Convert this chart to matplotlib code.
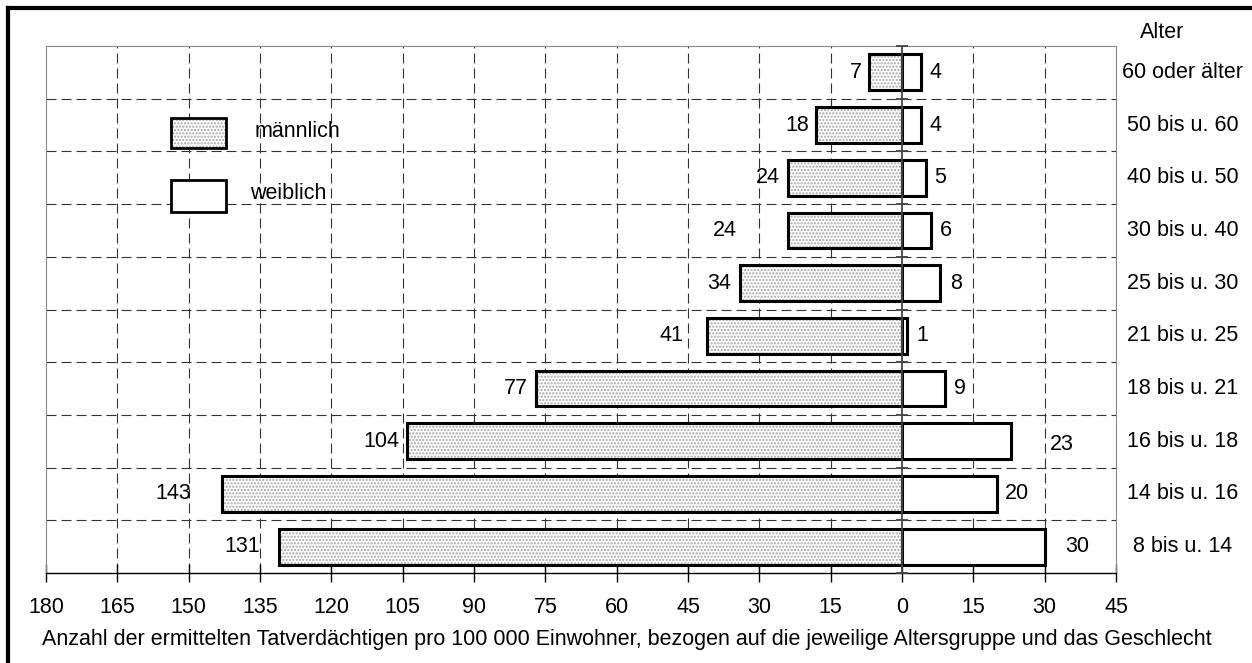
import matplotlib
matplotlib.use("Agg")
import matplotlib.pyplot as plt
from matplotlib.patches import Rectangle
from matplotlib.lines import Line2D
from matplotlib.transforms import offset_copy, blended_transform_factory
import numpy as np

plt.rcParams['font.family'] = ['Liberation Sans', 'DejaVu Sans']
plt.rcParams['hatch.linewidth'] = 1.0

# ---- data (top to bottom) ----
age_groups = ["60 oder älter", "50 bis u. 60", "40 bis u. 50", "30 bis u. 40",
              "25 bis u. 30", "21 bis u. 25", "18 bis u. 21", "16 bis u. 18",
              "14 bis u. 16", "8 bis u. 14"]
male = [7, 18, 24, 24, 34, 41, 77, 104, 143, 131]
female = [4, 4, 5, 6, 8, 1, 9, 23, 20, 30]
tick_values = [-180, -165, -150, -135, -120, -105, -90, -75, -60, -45, -30, -15, 0, 15, 30, 45]
tick_labels = [str(abs(v)) for v in tick_values]
legend_labels = ["männlich", "weiblich"]
x_caption = ("Anzahl der ermittelten Tatverdächtigen pro 100 000 Einwohner, "
             "bezogen auf die jeweilige Altersgruppe und das Geschlecht")
age_title = "Alter"

# label gaps in pixels from bar ends (layout only)
male_gap = [7, 7, 8, 51, 9, 24, 8, 8, 31, 19]
female_gap = [8, 8, 8, 9, 10, 10, 9, 38, 8, 21]
female_dy = [0, 0, 0, 0, 0, 0, 0, -3, 0, 0]

W, H = 1252, 663
fig = plt.figure(figsize=(W / 100, H / 100), dpi=100)
ax = fig.add_axes([46 / W, 1 - 573 / H, (1116 - 46) / W, (573 - 46) / H])

n = len(age_groups)
y = np.arange(n)[::-1]
bar_h = 0.68
FS = 15.5

ax.set_xlim(-180, 45)
ax.set_ylim(-0.5, n - 0.5)

dash = (0, (9, 4.5))
# grid
for b in np.arange(0.5, n - 0.5, 1.0):
    ax.axhline(b, color='#333333', lw=0.8, ls=dash, zorder=1)
for v in tick_values[1:-1]:
    if v != 0:
        ax.axvline(v, color='#333333', lw=0.8, ls=dash, zorder=1)

# male bars: dotted fill then outline
ax.barh(y, [-m for m in male], height=bar_h, color='#fbfbfb', edgecolor='#a8a8a8',
        hatch='.....', lw=0, zorder=2)
ax.barh(y, [-m for m in male], height=bar_h, fill=False, edgecolor='black',
        lw=2.2, zorder=3)
# female bars
ax.barh(y, female, height=bar_h, color='white', edgecolor='black', lw=2.2, zorder=3)

# zero line with small ticks
ax.axvline(0, color='#444444', lw=1.3, zorder=4)
ax.plot([0] * (n + 1), np.arange(-0.5, n, 1.0), ls='none', marker='_',
        color='#444444', markersize=8, mew=1.3, zorder=4, clip_on=False)

# value labels
for i in range(n):
    tm = offset_copy(ax.transData, fig=fig, x=-male_gap[i], y=0, units='dots')
    ax.text(-male[i], y[i], str(male[i]), transform=tm, ha='right', va='center',
            fontsize=FS, zorder=5)
    tf = offset_copy(ax.transData, fig=fig, x=female_gap[i], y=female_dy[i], units='dots')
    ax.text(female[i], y[i], str(female[i]), transform=tf, ha='left', va='center',
            fontsize=FS, zorder=5)

# age labels on the right
tr_age = blended_transform_factory(fig.transFigure, ax.transData)
for i in range(n):
    ax.text(1183 / W, y[i], age_groups[i], transform=tr_age,
            ha='center', va='center', fontsize=FS)
fig.text(1140 / W, 1 - 32 / H, age_title, ha='left', va='center', fontsize=FS)

# spines and ticks
for s in ['top', 'left', 'right']:
    ax.spines[s].set_color('#8a8a8a')
    ax.spines[s].set_linewidth(0.8)
ax.spines['bottom'].set_color('black')
ax.spines['bottom'].set_linewidth(1.0)
ax.set_yticks([])
ax.set_xticks(tick_values)
ax.set_xticklabels(tick_labels, fontsize=FS)
ax.tick_params(axis='x', direction='inout', length=13, width=1.0, pad=11, colors='black')

# legend
lx0 = (171 - 46) / (1116 - 46)
lw_ = (226 - 171) / (1116 - 46)
def yf(px):
    return 1 - (px - 46) / (573 - 46)
ax.add_patch(Rectangle((lx0, yf(148)), lw_, yf(118) - yf(148), transform=ax.transAxes,
                       facecolor='#fbfbfb', edgecolor='#a8a8a8', hatch='.....', lw=0, zorder=6))
ax.add_patch(Rectangle((lx0, yf(148)), lw_, yf(118) - yf(148), transform=ax.transAxes,
                       fill=False, edgecolor='black', lw=2.0, zorder=7))
ax.add_patch(Rectangle((lx0, yf(212)), lw_, yf(180) - yf(212), transform=ax.transAxes,
                       facecolor='white', edgecolor='black', lw=2.0, zorder=7))
ax.text((255 - 46) / 1070, yf(131), legend_labels[0], transform=ax.transAxes,
        ha='left', va='center', fontsize=FS, zorder=7)
ax.text((250 - 46) / 1070, yf(193), legend_labels[1], transform=ax.transAxes,
        ha='left', va='center', fontsize=FS, zorder=7)

# caption
fig.text(627 / W, 1 - 640 / H, x_caption, ha='center', va='center', fontsize=FS)

# outer frame (top and left visible)
fig.add_artist(Line2D([8 / W, 1], [1 - 8 / H, 1 - 8 / H], transform=fig.transFigure,
                      color='black', lw=3))
fig.add_artist(Line2D([8 / W, 8 / W], [0, 1 - 8 / H], transform=fig.transFigure,
                      color='black', lw=3))

fig.savefig("out.png", dpi=100)
